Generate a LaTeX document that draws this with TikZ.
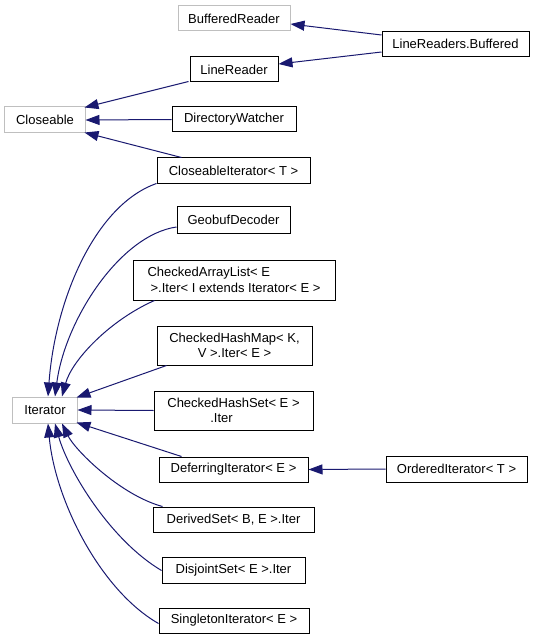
\documentclass[tikz,border=0pt]{standalone}
\usepackage{fontspec}
\setmainfont{Liberation Sans}
\usetikzlibrary{arrows.meta}
\definecolor{edgeblue}{HTML}{191970}
\definecolor{extgray}{HTML}{BFBFBF}
\begin{document}
\begin{tikzpicture}[x=1bp,y=-1bp,
  box/.style={draw=black,line width=1bp,inner sep=0pt,minimum height=25bp,
    font=\fontsize{13bp}{15.5bp}\selectfont,text=black},
  extbox/.style={box,draw=extgray},
  edge/.style={draw=edgeblue,line width=1bp,-{Triangle[length=14bp,width=10bp]}}]
\useasboundingbox (0,0) rectangle (536,640);
% nodes
\node[extbox,minimum width=112bp] (BR) at (234,18.5) {BufferedReader};
\node[box,minimum width=147bp] (LRB) at (455.5,44) {LineReaders.Buffered};
\node[box,minimum width=88bp] (LR) at (234,69.5) {LineReader};
\node[extbox,minimum width=80bp,minimum height=26bp] (CL) at (45,120) {Closeable};
\node[box,minimum width=124bp] (DW) at (234,119.5) {DirectoryWatcher};
\node[box,minimum width=153bp] (CI) at (233.5,170.5) {CloseableIterator< T >};
\node[box,minimum width=113bp,minimum height=27bp] (GD) at (233.5,219.5) {GeobufDecoder};
\node[box,minimum width=202bp,minimum height=40bp,align=left] (CAL) at (234,280)
  {CheckedArrayList< E\\\hspace*{3bp}>.Iter< I extends Iterator< E >};
\node[box,minimum width=155bp,minimum height=39bp,align=center] (CHM) at (234.5,345.5)
  {CheckedHashMap< K,\\V >.Iter< E >};
\node[extbox,minimum width=64bp,minimum height=26bp] (IT) at (45,410) {Iterator};
\node[box,minimum width=159bp,minimum height=39bp,align=center] (CHS) at (233.5,410.5)
  {CheckedHashSet< E >\\.Iter\hspace*{24bp}};
\node[box,minimum width=149bp] (DI) at (233.5,469.5) {DeferringIterator< E >};
\node[box,minimum width=161bp] (DS) at (233.5,519.5) {DerivedSet< B, E >.Iter};
\node[box,minimum width=143bp,minimum height=26bp] (DJ) at (233.5,570) {DisjointSet< E >.Iter};
\node[box,minimum width=150bp] (SI) at (234,620.5) {SingletonIterator< E >};
\node[box,minimum width=141bp,minimum height=26bp] (OI) at (456.5,469) {OrderedIterator< T >};
% edges
\draw[edge] ([shift={(0,-9)}]LRB.west) -- ([shift={(0,5.5)}]BR.east);
\draw[edge] ([shift={(0,8)}]LRB.west) -- ([shift={(0,-5.5)}]LR.east);
\draw[edge] ([shift={(-1,-1)}]LR.south west) -- ([shift={(-1,1)}]CL.north east);
\draw[edge] (DW.west) -- (CL.east);
\draw[edge] ([shift={(25,0)}]CI.north west) -- ([shift={(-1,-1)}]CL.south east);
\draw[edge] (CI.south west) .. controls (95,205) and (55,300) .. ([shift={(3,0)}]IT.north);
\draw[edge] ([shift={(0,7.5)}]GD.west) .. controls (120,235) and (65,320) .. ([shift={(10,0)}]IT.north);
\draw[edge] ([shift={(22,0)}]CAL.south west) .. controls (110,320) and (72,360) .. ([shift={(17,0)}]IT.north);
\draw[edge] ([shift={(10,0)}]CHM.south west) -- ([shift={(-1,1)}]IT.north east);
\draw[edge] (CHS.west) -- (IT.east);
\draw[edge] ([shift={(23,0)}]DI.north west) -- ([shift={(-1,-1)}]IT.south east);
\draw[edge] ([shift={(10,0)}]DS.north west) .. controls (120,495) and (75,450) .. ([shift={(17,0)}]IT.south);
\draw[edge] ([shift={(0,-13)}]DJ.south west) .. controls (110,540) and (68,470) .. ([shift={(10,0)}]IT.south);
\draw[edge] ([shift={(0,-10)}]SI.south west) .. controls (100,590) and (55,500) .. ([shift={(3,0)}]IT.south);
\draw[edge] (OI.west) -- (DI.east);
\end{tikzpicture}
\end{document}
